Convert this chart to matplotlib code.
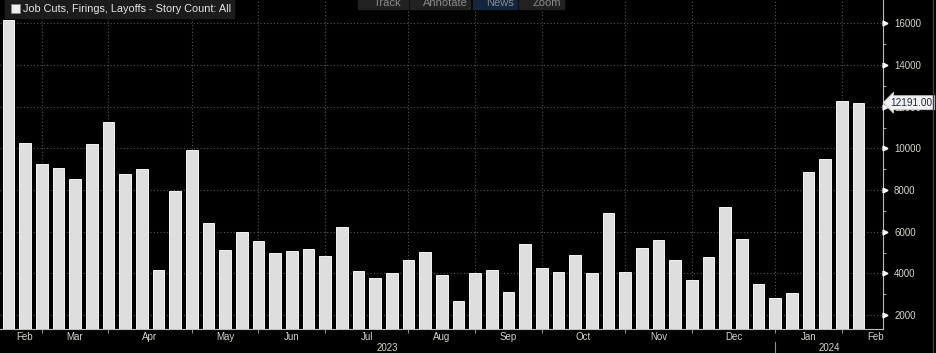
import numpy as np
import pandas as pd
import matplotlib
matplotlib.use("Agg")
import matplotlib.pyplot as plt
from matplotlib.patches import Rectangle
from matplotlib.lines import Line2D
import matplotlib.transforms as mtransforms

# weekly story counts, Feb 2023 - Jan 2024
week_start = pd.date_range("2023-02-13", periods=52, freq="7D")
story_count = [16150, 10250, 9230, 9060, 8540, 10200, 11250, 8750, 9010, 4150,
               7970, 9940, 6400, 5120, 5970, 5570, 4960, 5090, 5170, 4820,
               6240, 4100, 3780, 4040, 4660, 5010, 3920, 2670, 4000, 4150,
               3120, 5390, 4240, 4070, 4880, 4040, 6880, 4070, 5200, 5600,
               4660, 3670, 4770, 7190, 5650, 3490, 2820, 3040, 8850, 9490,
               12290, 12191]
series_name = "Job Cuts, Firings, Layoffs - Story Count: All"
y_ticks = [2000, 4000, 6000, 8000, 10000, 12000, 14000, 16000]
toolbar = ["Track", "Annotate", "News", "Zoom"]

W, H = 936, 353
fig = plt.figure(figsize=(W / 100, H / 100), dpi=100, facecolor="black")
plt.rcParams['font.family'] = ['Liberation Sans', 'DejaVu Sans']

def fx(x):
    return x / W

def fy(y):
    return 1 - y / H

ax = fig.add_axes([0, fy(329), fx(883), 1 - fy(329)], facecolor="black")

x = np.arange(len(story_count))
ax.bar(x, story_count, width=0.7, color="#dedede", edgecolor="#f4f4f4",
       linewidth=0.7, zorder=3)

ax.set_xlim(-0.5, 52.47)
ax.set_ylim(1330, 17120)

# month boundaries: week where the week-end falls into a new month
week_end = week_start + pd.Timedelta(days=6)
month_ticks = [i for i in range(1, len(week_end)) if week_end[i].month != week_end[i - 1].month]
label_pos = [month_ticks[0] - 1]
label_pos += [(a + b) / 2 for a, b in zip(month_ticks[:-1], month_ticks[1:])]
label_pos += [month_ticks[-1] + 2]
label_txt = [week_end[0].strftime("%b")] + [week_end[i].strftime("%b") for i in month_ticks]

ax.set_xticks(month_ticks)
ax.set_xticklabels([])
ax.set_xticks(label_pos, minor=True)
ax.set_xticklabels(label_txt, minor=True)
ax.tick_params(axis="x", which="major", length=3, color="#909090", width=0.8)
ax.tick_params(axis="x", which="minor", length=0, pad=2, labelsize=7, labelcolor="#d4d4cc")

ax.yaxis.tick_right()
ax.set_yticks(y_ticks)
ax.set_yticklabels([str(v) for v in y_ticks])
ax.set_yticks(np.arange(3000, 17000, 2000), minor=True)
ax.tick_params(axis="y", which="major", length=0, pad=8, labelsize=7, labelcolor="#d4d4cc")
ax.tick_params(axis="y", which="minor", direction="out", length=2.5, color="#a0a0a0", width=0.8)

# little arrow markers on the right axis
trans = mtransforms.blended_transform_factory(ax.transAxes, ax.transData)
ax.plot([1.0025] * len(y_ticks), y_ticks, ls="none", marker=">", ms=3.5,
        color="white", transform=trans, clip_on=False, zorder=5)

ax.grid(True, which="major", color="#555555", ls=(0, (1, 2)), lw=0.8)
ax.set_axisbelow(True)

for s in ["top", "left"]:
    ax.spines[s].set_visible(False)
ax.spines["right"].set_color("#bdbdbd")
ax.spines["bottom"].set_color("#bdbdbd")
ax.spines["right"].set_linewidth(0.8)
ax.spines["bottom"].set_linewidth(0.8)

# last value tag, drawn over the 12000 label like the terminal does
last = story_count[-1]
ax.annotate(f"{last:.2f}", xy=(1, last), xycoords=trans, xytext=(5.5, 0),
            textcoords="offset points", ha="left", va="center", fontsize=7.2,
            color="#1b2a44", annotation_clip=False, zorder=20,
            bbox=dict(boxstyle="larrow,pad=0.2", fc="#f2f2f2", ec="#cccccc", lw=0.6))

# year labels and separator
xt = mtransforms.blended_transform_factory(ax.transData, fig.transFigure)
ax.text((-0.5 + month_ticks[-2]) / 2, fy(348), "2023", transform=xt, ha="center",
        va="center", fontsize=7, color="#d4d4cc")
ax.text((month_ticks[-2] + 52.5) / 2, fy(348), "2024", transform=xt, ha="center",
        va="center", fontsize=7, color="#d4d4cc")
ax.add_artist(Line2D([month_ticks[-2]] * 2, [fy(342), fy(353)], transform=xt,
                     color="#909090", lw=0.8, clip_on=False))

# outer frame line on the right
fig.add_artist(Line2D([fx(933)] * 2, [0, 1], color="#3c3c3c", lw=1))

# legend box top-left
fig.add_artist(Rectangle((fx(5), fy(18)), fx(229), 18 / H, color="#1c1c1c", zorder=10))
fig.add_artist(Rectangle((fx(11), fy(13)), fx(9), 9 / H, fc="#eeeeee", ec="#888888",
                         lw=0.5, zorder=11))
fig.text(fx(23), fy(9), series_name, ha="left", va="center", fontsize=7.8,
         color="#e6e6e6", zorder=12)

# toolbar buttons, cut off by the top of the picture
btn_x = [(358, 408), (410, 470), (473, 517), (519, 564)]
btn_fc = ["#222222", "#222222", "#13263d", "#222222"]
for (x0, x1), fc, name in zip(btn_x, btn_fc, toolbar):
    fig.add_artist(Rectangle((fx(x0), fy(9)), fx(x1 - x0), 9 / H, color=fc, zorder=10))
    fig.text(fx((x0 + x1) / 2 + 5), fy(6), name, ha="center", va="baseline",
             fontsize=8, color="#8a8a8a", zorder=12)

fig.savefig("out.png", dpi=100, facecolor="black")
